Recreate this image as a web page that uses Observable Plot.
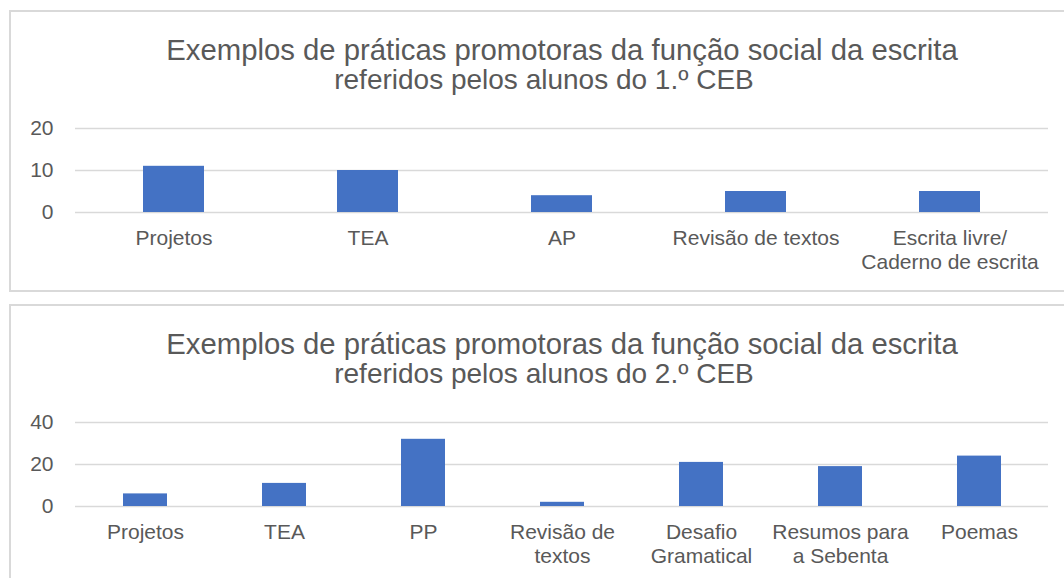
<!DOCTYPE html>
<html>
<head>
<meta charset="utf-8">
<script src="https://cdn.jsdelivr.net/npm/d3@7"></script>
<script src="https://cdn.jsdelivr.net/npm/@observablehq/plot@0.6"></script>
<style>
  html, body { margin: 0; padding: 0; background: #fff; width: 1064px; height: 578px; overflow: hidden; }
  body { position: relative; font-family: "Liberation Sans", Arial, sans-serif; }
  .panel { position: absolute; left: 9px; width: 1110px; border: 2px solid #d9d9d9; box-sizing: border-box; background: #fff; }
  .title { position: absolute; left: 0; width: 1124px; text-align: center; font-size: 29.3px; line-height: 29.3px; color: #595959; white-space: pre; }
  .sub { position: absolute; left: 0; width: 1088px; text-align: center; font-size: 28px; line-height: 29.3px; color: #595959; white-space: pre; }
  .chart { position: absolute; left: 0; }
</style>
</head>
<body>
<div class="panel" style="top:10px;height:282px;"></div>
<div class="panel" style="top:304px;height:300px;"></div>
<div class="title" id="t1" style="top:35.2px;"></div>
<div class="sub" id="s1" style="top:64.7px;"></div>
<div class="title" id="t2" style="top:329.2px;"></div>
<div class="sub" id="s2" style="top:358.7px;"></div>
<div class="chart" id="c1" style="top:100px;"></div>
<div class="chart" id="c2" style="top:394px;"></div>
<script>
const titleLine1 = "Exemplos de práticas promotoras da função social da escrita";
const subtitle1 = "referidos pelos alunos do 1.º CEB";
const titleLine2 = "Exemplos de práticas promotoras da função social da escrita";
const subtitle2 = "referidos pelos alunos do 2.º CEB";

const categories1 = ["Projetos", "TEA", "AP", "Revisão de textos", "Escrita livre/\nCaderno de escrita"];
const values1 = [11, 10, 4, 5, 5];
const yTicks1 = [0, 10, 20];

const categories2 = ["Projetos", "TEA", "PP", "Revisão de\ntextos", "Desafio\nGramatical", "Resumos para\na Sebenta", "Poemas"];
const values2 = [6, 11, 32, 2, 21, 19, 24];
const yTicks2 = [0, 20, 40];

function chart(cats, vals, ticks) {
  const data = cats.map((c, i) => ({c, v: vals[i]}));
  return Plot.plot({
    width: 1064,
    height: 190,
    marginLeft: 75,
    marginRight: 16,
    marginTop: 28,
    marginBottom: 78,
    style: {fontFamily: "'Liberation Sans', Arial, sans-serif", fontSize: "21px", color: "#595959", background: "transparent", overflow: "visible"},
    x: {domain: cats, paddingInner: 0.687, paddingOuter: 0.3435, label: null},
    y: {domain: [0, ticks[ticks.length - 1]], label: null},
    marks: [
      Plot.gridY(ticks, {stroke: "#d9d9d9", strokeOpacity: 1, strokeWidth: 1.3}),
      Plot.barY(data, {x: "c", y: "v", fill: "#4472C4"}),
      Plot.axisY(ticks, {tickSize: 0, tickPadding: 22, label: null, fontSize: 21}),
      Plot.axisX({tickSize: 0, tickPadding: 16, label: null, fontSize: 21, lineHeight: 1.12})
    ]
  });
}

document.getElementById("t1").textContent = titleLine1;
document.getElementById("s1").textContent = subtitle1;
document.getElementById("t2").textContent = titleLine2;
document.getElementById("s2").textContent = subtitle2;
document.getElementById("c1").appendChild(chart(categories1, values1, yTicks1));
document.getElementById("c2").appendChild(chart(categories2, values2, yTicks2));
</script>
</body>
</html>
